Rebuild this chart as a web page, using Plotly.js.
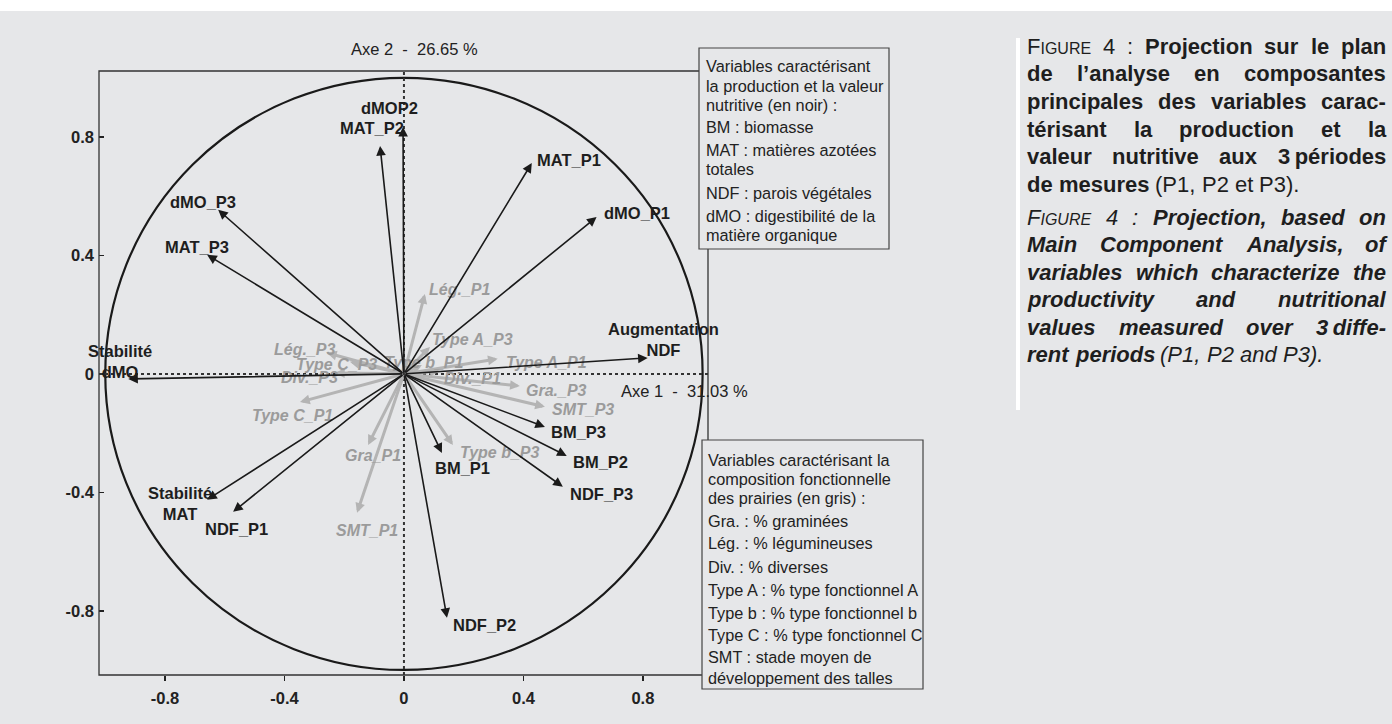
<!DOCTYPE html>
<html><head><meta charset="utf-8">
<script src="https://cdn.plot.ly/plotly-3.0.1.min.js"></script>
<style>html,body{margin:0;padding:0;background:#e6e7e9;}#chart{width:1392px;height:724px;}</style>
</head><body><div id="chart"></div>
<script>
// ---------- DATA ----------
const xTicks = [-0.8, -0.4, 0, 0.4, 0.8];
const xTickText = ['-0.8', '-0.4', '0', '0.4', '0.8'];
const yTicks = [-0.8, -0.4, 0, 0.4, 0.8];
const yTickText = ['-0.8', '-0.4', '0', '0.4', '0.8'];

// production / nutritive value variables (black)
const blackNames  = ['MAT_P1','dMO_P1','dMO_P2','MAT_P2','dMO_P3','MAT_P3','Stab_dMO','Aug_NDF','BM_P1','BM_P2','BM_P3','NDF_P1','NDF_P2','NDF_P3','Stab_MAT'];
const blackLabels = ['MAT_P1','dMO_P1','dMOP2','MAT_P2','dMO_P3','MAT_P3','Stabilité<br>dMO','Augmentation<br>NDF','BM_P1','BM_P2','BM_P3','NDF_P1','NDF_P2','NDF_P3','Stabilité<br>MAT'];
const blackAxe1 = [0.428, 0.645, -0.003, -0.080, -0.622, -0.659, -0.923, 0.816, 0.127, 0.545, 0.472, -0.572, 0.144, 0.532, -0.659];
const blackAxe2 = [0.712, 0.530, 0.834, 0.770, 0.554, 0.402, -0.017, 0.054, -0.267, -0.277, -0.179, -0.466, -0.824, -0.381, -0.425];

// functional composition variables (grey)
const greyNames  = ['Leg_P1','TypeA_P3','Typeb_P1','TypeA_P1','Div_P1','Gra_P3','SMT_P3','Typeb_P3','Gra_P1','SMT_P1','TypeC_P1','Leg_P3','TypeC_P3','Div_P3'];
const greyLabels = ['Lég._P1','Type A_P3','Type b_P1','Type A_P1','Div._P1','Gra._P3','SMT_P3','Type b_P3','Gra_P1','SMT_P1','Type C_P1','Lég._P3','Type C_P3','Div._P3'];
const greyAxe1 = [0.070, 0.087, 0.060, 0.314, 0.120, 0.388, 0.472, 0.164, -0.120, -0.157, -0.348, -0.258, -0.181, -0.231];
const greyAxe2 = [0.270, 0.091, 0.030, 0.051, 0.010, -0.041, -0.111, -0.240, -0.240, -0.469, -0.095, 0.071, 0.041, 0.003];

const axis1Title = 'Axe 1  -  31.03 %';
const axis2Title = 'Axe 2  -  26.65 %';

const legendProd = ['Variables caractérisant','la production et la valeur','nutritive (en noir) :','BM : biomasse','MAT : matières azotées','totales','NDF : parois végétales','dMO : digestibilité de la','matière organique'];
const legendComp = ['Variables caractérisant la','composition fonctionnelle','des prairies (en gris) :','Gra. : % graminées','Lég. : % légumineuses','Div. : % diverses','Type A : % type fonctionnel A','Type b : % type fonctionnel b','Type C : % type fonctionnel C','SMT : stade moyen de','développement des talles'];

const captionLines = [
 'FIGURE|sc 4|r :|r Projection|b sur|b le|b plan|b',
 'de|b l’analyse|b en|b composantes|b',
 'principales|b des|b variables|b carac-|b',
 'térisant|b la|b production|b et|b la|b',
 'valeur|b nutritive|b aux|b 3\u2009périodes|b',
 'de|b mesures|b (P1,|r P2|r et|r P3).|r',
 'FIGURE|sci 4|i :|i Projection,|bi based|bi on|bi',
 'Main|bi Component|bi Analysis,|bi of|bi',
 'variables|bi which|bi characterize|bi the|bi',
 'productivity|bi and|bi nutritional|bi',
 'values|bi measured|bi over|bi 3\u2009diffe-|bi',
 'rent|bi periods|bi (P1,|i P2|i and|i P3).|i'
];

// ---------- LAYOUT HELPERS (styles / positions) ----------
const FONT = 'Liberation Sans, Arial, Helvetica, sans-serif';
const BG = '#e6e7e9';
const L = 99, R = 708, T = 71, B = 675, W = R - L, H = B - T;
const PX = x => (x - L) / W;
const PY = y => (B - y) / H;

// label placement: [xanchor, xshift, yshift]
const blackPlace = {
 MAT_P1:['left',3,3], dMO_P1:['left',5,4], dMO_P2:['center',-14,19], MAT_P2:['center',-8,18],
 dMO_P3:['center',-15,8], MAT_P3:['center',-10,8], Stab_dMO:['center',-8,17], Aug_NDF:['center',16,18],
 BM_P1:['center',21,-15], BM_P2:['left',4,-6], BM_P3:['left',4,-5], NDF_P1:['center',3,-17],
 NDF_P2:['left',4,-7], NDF_P3:['left',5,-7], Stab_MAT:['center',-27,-4]
};
const greyPlace = {
 Leg_P1:['left',2,4], TypeA_P3:['left',0,7], Typeb_P1:['center',2,3], TypeA_P1:['left',6,-4],
 Div_P1:['left',2,-8], Gra_P3:['left',4,-4], SMT_P3:['left',5,-3], Typeb_P3:['left',5,-8],
 Gra_P1:['center',5,-11], SMT_P1:['center',10,-18], TypeC_P1:['center',-8,-13],
 Leg_P3:['center',-22,3], TypeC_P3:['center',-13,-3], Div_P3:['center',-25,-4]
};

const annotations = [];
const shapes = [];

// background pieces
shapes.push({type:'rect', xref:'paper', yref:'paper', x0:PX(0), x1:PX(1392), y0:PY(0), y1:PY(11), fillcolor:'#ffffff', line:{width:0}, layer:'below'});
shapes.push({type:'rect', xref:'paper', yref:'paper', x0:PX(1016), x1:PX(1020), y0:PY(38), y1:PY(410), fillcolor:'#ffffff', line:{width:0}, layer:'below'});
// frame
shapes.push({type:'rect', xref:'paper', yref:'paper', x0:0, x1:1, y0:0, y1:1, line:{color:'#333', width:1.3}});
// correlation circle
shapes.push({type:'circle', xref:'x', yref:'y', x0:-1, x1:1, y0:-1, y1:1, line:{color:'#1a1a1a', width:2.2}});
// dotted axes through origin
shapes.push({type:'line', xref:'x', yref:'paper', x0:0, x1:0, y0:0, y1:1, line:{color:'#333', width:2, dash:'dot'}});
shapes.push({type:'line', xref:'paper', yref:'y', x0:0, x1:1, y0:0, y1:0, line:{color:'#333', width:2, dash:'dot'}});
// legend boxes
shapes.push({type:'rect', xref:'paper', yref:'paper', x0:PX(699), x1:PX(889), y0:PY(249), y1:PY(48), fillcolor:BG, line:{color:'#444', width:1.2}});
shapes.push({type:'rect', xref:'paper', yref:'paper', x0:PX(702), x1:PX(923), y0:PY(689), y1:PY(440), fillcolor:BG, line:{color:'#444', width:1.2}});

// grey arrows + labels
greyNames.forEach((n, i) => {
  annotations.push({x:greyAxe1[i], y:greyAxe2[i], ax:0, ay:0, xref:'x', yref:'y', axref:'x', ayref:'y',
    text:'', showarrow:true, arrowhead:2, arrowsize:0.65, arrowwidth:3, arrowcolor:'#b4b4b4', standoff:0});
});
greyNames.forEach((n, i) => {
  const p = greyPlace[n];
  annotations.push({x:greyAxe1[i], y:greyAxe2[i], xref:'x', yref:'y', text:'<b><i>'+greyLabels[i]+'</i></b>',
    showarrow:false, xanchor:p[0], yanchor:'middle', xshift:p[1], yshift:p[2],
    font:{family:FONT, size:16, color:'#9b9b9b'}});
});
// black arrows + labels
blackNames.forEach((n, i) => {
  annotations.push({x:blackAxe1[i], y:blackAxe2[i], ax:0, ay:0, xref:'x', yref:'y', axref:'x', ayref:'y',
    text:'', showarrow:true, arrowhead:2, arrowsize:1.2, arrowwidth:1.6, arrowcolor:'#1a1a1a', standoff:0});
});
blackNames.forEach((n, i) => {
  const p = blackPlace[n];
  annotations.push({x:blackAxe1[i], y:blackAxe2[i], xref:'x', yref:'y', text:'<b>'+blackLabels[i]+'</b>',
    showarrow:false, xanchor:p[0], yanchor:'middle', xshift:p[1], yshift:p[2], align:'center',
    font:{family:FONT, size:16.5, color:'#1e1e1e'}});
});

// axis titles
annotations.push({xref:'paper', yref:'paper', x:PX(414), y:PY(49), text:axis2Title, showarrow:false, xanchor:'center', yanchor:'middle', font:{family:FONT, size:16.5, color:'#222'}});
annotations.push({xref:'paper', yref:'paper', x:PX(619), y:PY(391), text:axis1Title, showarrow:false, xanchor:'left', yanchor:'middle', font:{family:FONT, size:16.5, color:'#222'}});

// legend texts
const prodY = [66, 86, 105, 127, 150, 169, 193, 216, 235];
legendProd.forEach((t, i) => annotations.push({xref:'paper', yref:'paper', x:PX(704), y:PY(prodY[i]), text:t, showarrow:false, xanchor:'left', yanchor:'middle', font:{family:FONT, size:16.3, color:'#222'}}));
const compY = [460, 479, 498, 521, 543, 567, 590, 613, 635, 657, 678];
legendComp.forEach((t, i) => annotations.push({xref:'paper', yref:'paper', x:PX(706), y:PY(compY[i]), text:t, showarrow:false, xanchor:'left', yanchor:'middle', font:{family:FONT, size:16.3, color:'#222'}}));

// caption (justified with measured words)
const CAP_SIZE = 22, SC_SIZE = 16, CAP_L = 1026, CAP_R = 1385;
const capY = [46.5, 74, 101.5, 129, 156.5, 184, 217, 244.5, 272, 299.5, 327, 354.5];
const capJustify = [true, true, true, true, true, false, true, true, true, true, true, false];
const cv = document.createElement('canvas').getContext('2d');
function fontCss(st, size) {
  const it = st.includes('i') ? 'italic ' : '';
  const bd = (st === 'b' || st === 'bi') ? 'bold ' : '';
  return it + bd + size + 'px "Liberation Sans"';
}
function measure(txt, st) {
  if (st.startsWith('sc')) {
    const s2 = st.replace('sc', '') || 'r';
    cv.font = fontCss(s2, CAP_SIZE); let w = cv.measureText(txt[0]).width;
    cv.font = fontCss(s2, SC_SIZE); w += cv.measureText(txt.slice(1)).width; return w;
  }
  cv.font = fontCss(st, CAP_SIZE); return cv.measureText(txt).width;
}
function markup(txt, st) {
  if (st.startsWith('sc')) {
    const inner = txt[0] + '<span style="font-size:' + SC_SIZE + 'px">' + txt.slice(1) + '</span>';
    return st === 'sci' ? '<i>' + inner + '</i>' : inner;
  }
  if (st === 'b') return '<b>' + txt + '</b>';
  if (st === 'bi') return '<b><i>' + txt + '</i></b>';
  if (st === 'i') return '<i>' + txt + '</i>';
  return txt;
}
captionLines.forEach((line, li) => {
  const words = line.split(' ').map(w => { const k = w.lastIndexOf('|'); return [w.slice(0, k), w.slice(k + 1)]; });
  const widths = words.map(w => measure(w[0], w[1]));
  const total = widths.reduce((a, b) => a + b, 0);
  cv.font = fontCss('r', CAP_SIZE);
  const normalGap = cv.measureText(' ').width;
  const gap = capJustify[li] ? Math.max(normalGap * 0.8, (CAP_R - CAP_L - total) / (words.length - 1)) : normalGap;
  let x = CAP_L;
  words.forEach((w, wi) => {
    annotations.push({xref:'paper', yref:'paper', x:PX(x - 1), y:PY(capY[li]), text:markup(w[0], w[1]), showarrow:false,
      xanchor:'left', yanchor:'middle', font:{family:FONT, size:CAP_SIZE, color:'#1e1e1e'}});
    x += widths[wi] + gap;
  });
});

const tickFont = {family:FONT, size:16.5, color:'#222', weight:'bold'};
const layout = {
  width:1392, height:724,
  margin:{l:L, r:1392 - R, t:T, b:724 - B, pad:0},
  paper_bgcolor:BG, plot_bgcolor:'rgba(0,0,0,0)',
  showlegend:false,
  xaxis:{range:[-1.021, 1.018], tickmode:'array', tickvals:xTicks, ticktext:xTickText, ticks:'outside', ticklen:5, tickwidth:1.5,
    tickcolor:'#222', showgrid:false, zeroline:false, showline:false, fixedrange:true, tickfont:tickFont, ticklabelstandoff:3},
  yaxis:{range:[-1.017, 1.023], tickmode:'array', tickvals:yTicks, ticktext:yTickText, ticks:'inside', ticklen:5, tickwidth:1.5,
    tickcolor:'#222', showgrid:false, zeroline:false, showline:false, fixedrange:true, tickfont:tickFont, ticklabelstandoff:4},
  shapes:shapes,
  annotations:annotations
};
const traces = [{x:blackAxe1.concat(greyAxe1), y:blackAxe2.concat(greyAxe2), mode:'markers', type:'scatter',
  marker:{size:1, opacity:0}, hoverinfo:'skip'}];
Plotly.newPlot('chart', traces, layout, {displayModeBar:false, staticPlot:true});
</script></body></html>
